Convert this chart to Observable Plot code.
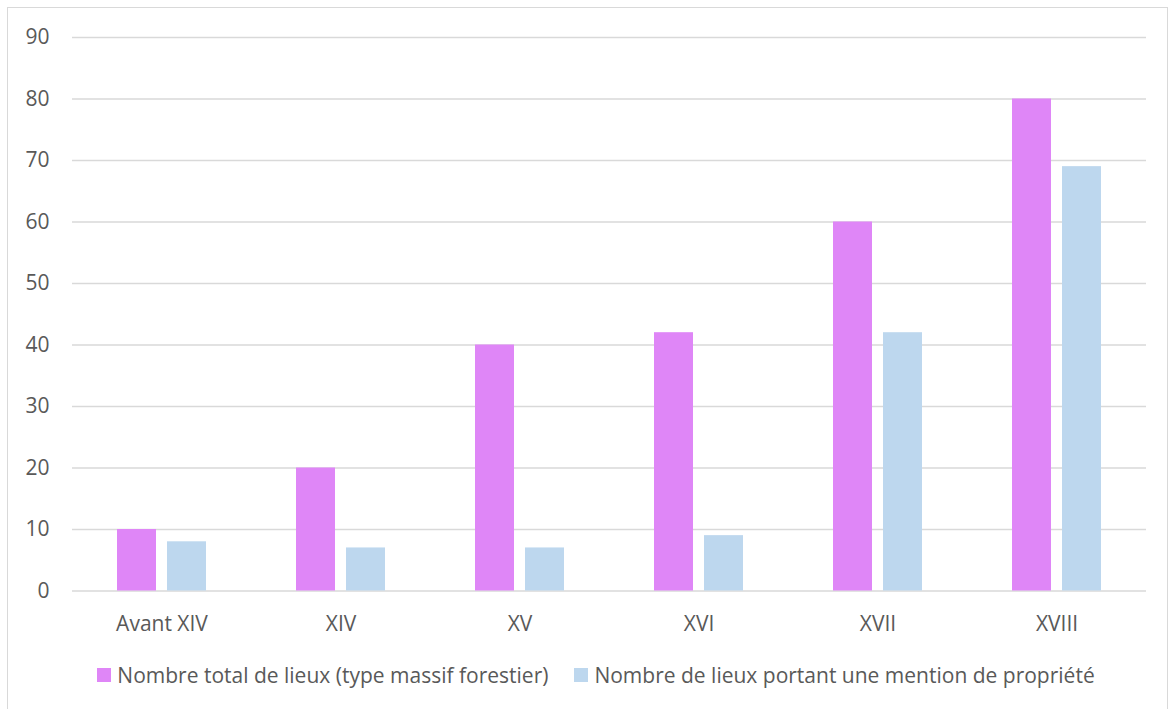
<!DOCTYPE html>
<html><head><meta charset="utf-8">
<script src="https://cdn.jsdelivr.net/npm/d3@7"></script>
<script src="https://cdn.jsdelivr.net/npm/@observablehq/plot@0.6"></script>
<style>
body{margin:0;background:#fff;font-family:"Open Sans",sans-serif;width:1170px;height:709px;overflow:hidden;position:relative}
#frame{position:absolute;left:7px;top:7px;width:1161px;height:730px;border:1.5px solid #d9d9d9;box-sizing:border-box}
#chart{position:absolute;left:0;top:0}
#legend{position:absolute;top:660px;left:0;width:1170px;display:flex;justify-content:center;align-items:center;gap:26px;font-size:21px;line-height:30px;color:#595959;padding-left:22px;box-sizing:border-box}
.item{display:flex;align-items:center;gap:6px;white-space:nowrap}
.sw{width:14px;height:14px;display:inline-block}
</style></head>
<body>
<div id="frame"></div>
<div id="chart"></div>
<div id="legend"></div>
<script>
const categories = ["Avant XIV","XIV","XV","XVI","XVII","XVIII"];
const seriesNames = ["Nombre total de lieux (type massif forestier)","Nombre de lieux portant une mention de propriété"];
const totalLieux = [10,20,40,42,60,80];
const lieuxPropriete = [8,7,7,9,42,69];
const yTicks = [0,10,20,30,40,50,60,70,80,90];
const colors = ["#df86f7","#bdd7ee"];

const data = [];
categories.forEach((c,i)=>{
  data.push({cat:c, series:seriesNames[0], value:totalLieux[i]});
  data.push({cat:c, series:seriesNames[1], value:lieuxPropriete[i]});
});

const chart = Plot.plot({
  width:1170, height:640,
  marginLeft:72, marginRight:24, marginTop:37, marginBottom:49.5,
  style:{fontFamily:"'Open Sans', sans-serif", fontSize:"21px", color:"#595959", background:"transparent"},
  fx:{domain:categories, padding:0, label:null},
  x:{domain:seriesNames, axis:null, paddingInner:0.2157, paddingOuter:0.863},
  y:{domain:[0,90], label:null},
  color:{domain:seriesNames, range:colors},
  marks:[
    Plot.gridY(yTicks,{stroke:"#d9d9d9", strokeOpacity:1, strokeWidth:1.5}),
    Plot.barY(data,{fx:"cat", x:"series", y:"value", fill:"series"}),
    Plot.axisY(yTicks,{tickSize:0, tickPadding:23, label:null, fill:"#595959", fontSize:21}),
    Plot.axisFx({anchor:"bottom", tickSize:0, tickPadding:25, label:null, fill:"#595959", fontSize:21})
  ]
});
document.getElementById("chart").appendChild(chart);

const legend = document.getElementById("legend");
seriesNames.forEach((s,i)=>{
  const it = document.createElement("div"); it.className="item";
  const sw = document.createElement("span"); sw.className="sw"; sw.style.background=colors[i];
  const t = document.createElement("span"); t.textContent=s;
  it.appendChild(sw); it.appendChild(t); legend.appendChild(it);
});
</script>
</body></html>
